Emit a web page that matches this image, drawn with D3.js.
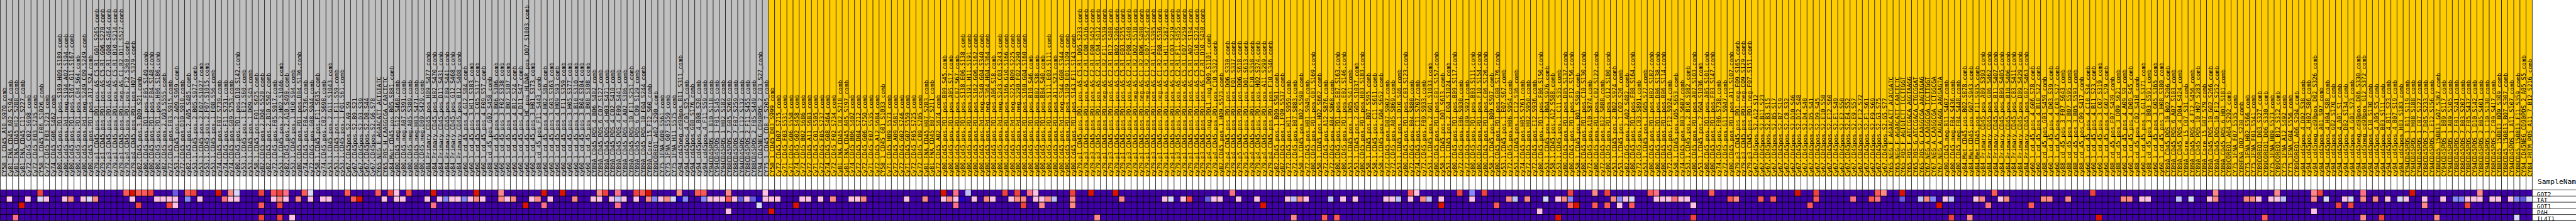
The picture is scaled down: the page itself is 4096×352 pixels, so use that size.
<!DOCTYPE html>
<html>
<head>
<meta charset="utf-8">
<script src="https://cdn.jsdelivr.net/npm/d3@7/dist/d3.min.js"></script>
<style>
html,body{margin:0;padding:0;background:#fff;overflow:hidden;width:4096px;height:352px}
svg{display:block}
text{font-family:"DejaVu Sans Mono",monospace;fill:#000}
</style>
</head>
<body>
<div id="chart"></div>
<script>
// Samples of the first class (grey columns)
const samplesGrey = [
"CY58_1_CD45_A10_S970_comb","Cy81_FNA_CD45_A02_S194_comb","Cy81_FNA_CD45_H12_S288_comb","Cy81_FNA_CD45_C11_S227_comb","Cy72_CD45_C02_S698_comb","Cy72_CD45_F03_S735_comb","CY58_1_CD45_F06_S1026_comb","Cy72_CD45_F03_S723_comb","Cy74_CD45_G06_S462_comb",
"cy80.Cd45.pos.PD1.pos.S189.H09.S189.comb","cy80.Cd45.pos.Pd1.neg.S194.A02.S194.comb","cy80.Cd45.pos.PD1.pos.S167.G11.S167.comb","cy80.Cd45.pos.PD1.pos.C04.S64.comb","cy80.Cd45.pos.Pd1.neg.S249.C09.S249.comb","cy80.Cd45.pos.PD1.pos.A12.S24.comb",
"cy79.p1.CD45.pos.PD1.pos.AS.C5.R1.G01.S265.comb","cy79.p1.CD45.pos.PD1.pos.AS.C5.R1.G06.S270.comb","cy79.p3.CD45.pos.PD1.pos.AS.C2.R1.G08.S464.comb","cy79.p1.CD45.pos.PD1.pos.AS.C5.R1.B10.S214.comb","cy79.p1.CD45.pos.PD1.neg.AS.C1.R2.D11.S527.comb",
"cy79.p4.CD45.pos.PD1.pos.F12.S360.comb","cy79.p4.CD45.pos.PD1.pos.H07.S379.comb","cy82.CD45.pos.3.B09.S21.comb","cy80.CD45.pos.PD1.pos.F05.S149.comb","cy80.CD45.pos.PD1.pos.F04.S148.comb","cy80.CD45.pos.PD1.pos.H06.S186.comb","cy82.CD45.pos.2.G03.S555.comb","cy72.CD45.pos.F03.S915.comb","cy53.1.CD45.pos.2.A09.S969.comb","cy72.CD45.pos.D10.S910.comb","cy82.CD45.pos.2.A05.S485.comb","cy53.1.CD45.pos.2.B05.S977.comb","cy53.1.CD45.pos.2.F07.S1027.comb",
"cy53.1.CD45.pos.2.F07.S1015.comb","cy53.1.CD45.pos.1.F08.S56.comb","cy74.CD45.pos.F07.S739.comb","cy74.CD45.pos.F11.S731.comb","cy74.CD45.pos.G09.S753.comb","cy80.CD45.pos.PD1.pos.D10.S142.comb","cy53.1.CD45.pos.1.E12.S60.comb","cy53.1.CD45.pos.1.D09.S45.comb","cy58.1.CD45.pos.F01.S625.comb","cy82.CD45.pos.2.D04.S520.comb","cy82.CD45.pos.2.B10.S502.comb","cy72.CD45.pos.F05.S917.comb","cy53.1.CD45.pos.2.H02.S1046.comb","cy82.CD45.pos.2.A10.S490.comb","cy53.1.CD45.pos.1.H10.S94.comb","cy80.CD45.pos.PD1.pos.D04.S136.comb","cy74.CD45.pos.F04.S736.comb","cy72.CD45.pos.G08.S944.comb","cy58.1.CD45.pos.F11.S635.comb","cy74.CD45.pos.C02.S698.comb","cy53.1.CD45.pos.2.G11.S1043.comb","cy53.1.CD45.pos.1.F11.S59.comb","cy53.1.CD45.pos.1.F01.S61.comb",
"Cy67.CD45pos.S2.A9.S9","Cy67.CD45pos.S2.B9.S21","Cy67.CD45pos.S2.D3.S39","Cy67.CD45pos.S2.D8.S44","Cy67.CD45pos.S2.G6.S78","CY65_NEG_E_AGAACATT_ACTGTATC","CY65_POS_H_CAAGGCGA_CAACTCTC","cy84.Met.CD45.pos.B05.S881.comb","cy80.CD45.neg.G12.S468.comb","cy80.CD45.neg.A07.S391.comb","cy80.CD45.neg.A05.S389.comb","cy80.CD45.neg.H03.S471.comb","cy80.CD45.neg.D09.S429.comb",
"cy84_Primary_CD45_pos_H09_S477_comb","cy84_Primary_CD45_pos_H02_S470_comb","cy84_Primary_CD45_pos_D11_S431_comb","cy84_Primary_CD45_pos_F09_S441_comb","cy84_Primary_CD45_pos_G12_S468_comb","cy84_Primary_CD45_pos_B12_S408_comb",
"cy60_1_cd_45_pos_4_G12_S84_comb","cy60_1_cd_45_pos_3_H11_S383_comb","cy60_1_cd_45_pos_3_C05_S317_comb","cy60_1_cd_45_pos_4_F09_S57_comb","cy88_cd_45_pos_G02_S458_comb","cy60_1_cd_45_pos_3_B06_S306_comb","cy60_1_cd_45_pos_3_F02_S338_comb","cy60_1_cd_45_pos_3_B07_S307_comb","cy60_1_cd_45_pos_4_B12_S24_comb","cy60_1_cd_45_pos_4_D11_S47_comb","cy60_1_cd_45_pos_HC_pos_HLDAR_pos_D07_S1003_comb","cy60_1_cd_45_pos_3_H01_S373_comb","cy88_cd_45_pos_F11_S443_comb","cy60_1_cd_45_pos_4_H02_S86_comb","cy60_1_cd_45_pos_3_G03_S363_comb","cy60_1_cd_45_pos_4_H09_S93_comb","cy60_1_cd_45_pos_3_F11_S359_comb","cy60_1_cd_45_pos_3_H05_S377_comb","cy60_1_cd_45_pos_3_B10_S310_comb","cy60_1_cd_45_pos_3_B04_S304_comb","cy60_1_cd_45_pos_3_B08_S308_comb",
"CY89A_CD45_POS_4_B06_S402_comb","CY89A_CD45_POS_6_C07_S127_comb","CY89A_CD45_POS_4_H03_S471_comb","CY89A_CD45_POS_4_C02_S410_comb","CY89A_CD45_POS_4_F09_S441_comb","CY89A_CD45_POS_4_A02_S386_comb","CY89A_CD45_POS_10_F11_S251_comb","CY89A_CD45_POS_6_C09_S129_comb","CY89A_CD45_POS_10_F04_S244_comb","CY89A_Core_15_F12_S60_comb","CY89COREQ1_A02_S290_comb","CY75_1FNA_G09_S561_comb","CY75_1FNA_G07_S559_comb","CY75_1FNA_H11_S575_comb",
"cy94_cd45neg_cd90pos_B11_S311_comb","cy94_cd45pos_4_C01_S25_comb","cy94_cd45pos_G08_S176_comb","cy94_cd45pos_4_B08_S20_comb","cy94_cd45pos_4_F11_S59_comb","CY94CD45POS_1_B10_S118_comb","CY94CD45POS_1_F01_S145_comb","CY94CD45POS_1_H02_S182_comb","CY88CD45POS_7_G05_S269_comb","CY88CD45POS_7_F07_S259_comb","CY94CD45POS_1_C12_S132_comb","CY88CD45POS_2_F11_S455_comb","CY88CD45POS_2_F05_S449_comb","CY94_CD45NEG_CD90POS_2_C03_S27_comb","CY75_1_CD45_CD8_7_S205_comb"
];
// Samples of the second class (gold columns)
const samplesGold = [
"CY58_1_CD45_D03_S999_comb","Cy72_CD45_D07_S715_comb","Cy71_CD45_F03_S531_comb","Cy71_CD45_G06_S558_comb","Cy74_CD45_G02_S458_comb","Cy72_CD45_B02_S686_comb","Cy72_CD45_A11_S683_comb","Cy71_CD45_C01_S505_comb","Cy72_CD45_F05_S737_comb","Cy74_CD45_G08_S464_comb","Cy72_CD45_F02_S734_comb","Cy81_FNA_CD45_C02_S218_comb","Cy81_FNA_CD45_A05_S197_comb","Cy74_CD45_B06_S402_comb","Cy72_CD45_D04_S712_comb","Cy72_CD45_G06_S750_comb","Cy71_CD45_F07_S535_comb","Cy72_CD45_A12_S684_comb","CY58_1_CD45_G01_S1033_comb","Cy71_CD45_H09_S573_comb",
"Cy72_CD45_A09_S681_comb","Cy72_CD45_G02_S746_comb","Cy71_CD45_G07_S559_comb","Cy72_CD45_F05_S725_comb","Cy72_CD45_C09_S705_comb","Cy81_FNA_CD45_H07_S283_comb","Cy81_FNA_CD45_B07_S211_comb","Cy72_CD45_A02_S674_comb",
"cy80.Cd45.pos.PD1.pos.B09.S45.comb","cy80.Cd45.pos.PD1.pos.A05.S17.comb","cy80.Cd45.pos.PD1.pos.C07.S67.comb","cy80.Cd45.pos.PD1.pos.S138.E06.S138.comb","cy80.Cd45.pos.PD1.pos.S191.H11.S191.comb","cy80.Cd45.pos.PD1.pos.S162.G06.S162.comb","cy80.Cd45.pos.Pd1.neg.S340.G04.S340.comb","cy80.Cd45.pos.Pd1.neg.S364.H04.S364.comb","cy80.Cd45.pos.PD1.pos.A06.S18.comb","cy80.Cd45.pos.Pd1.neg.S243.C03.S243.comb","cy80.Cd45.pos.PD1.pos.S166.G10.S166.comb","cy80.Cd45.pos.Pd1.neg.S225.B09.S225.comb","cy80.Cd45.pos.Pd1.neg.S290.F02.S290.comb","cy80.Cd45.pos.PD1.pos.S160.G04.S160.comb","cy80.Cd45.pos.PD1.pos.B10.S46.comb","cy80.Cd45.pos.PD1.pos.B02.S38.comb","cy80.Cd45.pos.PD1.pos.B04.S40.comb","cy80.Cd45.pos.PD1.pos.S111.E03.S111.comb","cy80.Cd45.pos.PD1.pos.A11.S23.comb","cy80.Cd45.pos.Pd1.neg.S344.G08.S344.comb","cy80.Cd45.pos.PD1.pos.S109.E01.S109.comb","cy80.Cd45.pos.PD1.pos.S143.F11.S143.comb",
"cy79.p1.CD45.pos.PD1.pos.AS.C5.R1.D05.S233.comb","cy79.p3.CD45.pos.PD1.pos.AS.C2.R1.C08.S416.comb","cy79.p3.CD45.pos.PD1.pos.AS.C2.R1.F08.S452.comb","cy79.p3.CD45.pos.PD1.pos.AS.C2.R1.C04.S412.comb","cy79.p1.CD45.pos.PD1.neg.AS.C1.R2.F11.S539.comb","cy79.p3.CD45.pos.PD1.pos.AS.C2.R1.B12.S408.comb","cy79.p1.CD45.pos.PD1.pos.AS.C5.R1.B02.S206.comb","cy79.p1.CD45.pos.PD1.pos.AS.C5.R1.E03.S255.comb","cy79.p3.CD45.pos.PD1.pos.AS.C2.R1.F08.S440.comb","cy79.p1.CD45.pos.PD1.neg.AS.C1.R2.D02.S518.comb","cy79.p1.CD45.pos.PD1.neg.AS.C1.R2.B06.S498.comb","cy79.p1.CD45.pos.PD1.neg.AS.C1.R2.E07.S547.comb","cy79.p3.CD45.pos.PD1.pos.AS.C2.R1.A11.S395.comb","cy79.p1.CD45.pos.PD1.neg.AS.C1.R2.F08.S536.comb","cy79.p1.CD45.pos.PD1.pos.AS.C5.R1.H11.S287.comb","cy79.p1.CD45.pos.PD1.pos.AS.C5.R1.C03.S219.comb","cy79.p3.CD45.pos.PD1.pos.AS.C2.R1.F11.S455.comb","cy79.p1.CD45.pos.PD1.pos.AS.C5.R1.F07.S259.comb","cy79.p1.CD45.pos.PD1.pos.AS.C5.R1.A02.S194.comb","cy79.p1.CD45.pos.PD1.pos.AS.C5.R1.G10.S274.comb","cy79.p3.CD45.pos.PD1.pos.AS.C2.R1.D10.S430.comb",
"cy79.p4.CD45.neg.PDL1.neg.D09.S1101.comb","cy79.p4.CD45.pos.PD1.pos.C10.S322.comb","cy82.CD45.pos.1.H09.S573.comb","cy79.p4.CD45.pos.PD1.pos.D06.S330.comb","cy79.p4.CD45.pos.PD1.pos.F01.S337.comb","cy79.p5.CD45.pos.PD1.pos.D06.S618.comb","cy79.p5.CD45.pos.PD1.pos.D01.S613.comb","cy79.p4.CD45.pos.PD1.pos.E10.S358.comb","cy79.p4.CD45.pos.PD1.pos.H02.S374.comb","cy79.p4.CD45.pos.PD1.pos.A11.S299.comb","cy79.p4.CD45.pos.PD1.pos.F10.S346.comb","cy82.CD45.pos.1.B09.S501.comb","cy82.CD45.pos.1.F09.S537.comb","cy72.CD45.pos.H11.S959.comb","cy72.CD45.pos.B07.S883.comb","cy58.1.CD45.pos.B02.S590.comb","cy72.CD45.pos.H01.S949.comb","cy80.CD45.pos.PD1.pos.G01.S169.comb","cy58.1.CD45.pos.H02.S662.comb",
"cy72.CD45.pos.A12.S876.comb","cy72.CD45.pos.A04.S868.comb","cy80.CD45.pos.PD1.pos.E07.S163.comb","cy80.CD45.pos.PD1.pos.E02.S146.comb","cy53.1.CD45.pos.1.D05.S41.comb","cy53.1.CD45.pos.2.G05.S1037.comb","cy80.CD45.pos.PD1.pos.H03.S183.comb","cy58.1.CD45.pos.B07.S595.comb","cy58.1.CD45.pos.C11.S611.comb","cy58.1.CD45.pos.G04.S652.comb","cy72.CD45.pos.D07.S907.comb","cy72.CD45.pos.A05.S869.comb","cy53.1.CD45.pos.1.D10.S46.comb","cy80.CD45.pos.PD1.pos.C03.S123.comb","cy72.CD45.pos.B04.S880.comb","cy74.CD45.pos.C11.S707.comb","cy72.CD45.pos.F09.S933.comb","cy53.1.CD45.pos.2.G01.S1033.comb","cy80.CD45.pos.PD1.pos.E01.S157.comb","cy58.1.CD45.pos.D01.S613.comb","cy53.1.CD45.pos.2.E04.S1024.comb","cy80.CD45.pos.PD1.pos.B09.S117.comb","cy72.CD45.pos.E06.S930.comb","cy72.CD45.pos.E09.S921.comb","cy80.CD45.pos.PD1.pos.B03.S111.comb","cy80.CD45.pos.PD1.pos.F10.S154.comb","cy80.CD45.pos.PD1.pos.C06.S126.comb","cy58.1.CD45.pos.B09.S597.comb","cy80.CD45.pos.PD1.pos.G08.S176.comb","cy53.1.CD45.pos.1.E07.S67.comb","cy72.CD45.pos.H06.S954.comb","cy53.1.CD45.pos.1.C12.S36.comb","cy74.CD45.pos.H05.S761.comb","cy72.CD45.pos.H02.S950.comb","cy72.CD45.pos.E12.S936.comb",
"cy80.CD45.pos.PD1.pos.F06.S150.comb","cy53.1.CD45.pos.2.B04.S976.comb","cy58.1.CD45.pos.A12.S588.comb","cy53.1.CD45.pos.1.C11.S35.comb","cy80.CD45.pos.PD1.pos.D05.S137.comb","cy80.CD45.pos.PD1.pos.F12.S156.comb","cy58.1.CD45.pos.B01.S589.comb","cy80.CD45.pos.PD1.pos.C10.S130.comb","cy72.CD45.pos.A10.S874.comb","cy80.CD45.pos.PD1.pos.C02.S122.comb","cy72.CD45.pos.B12.S888.comb","cy80.CD45.pos.PD1.pos.G12.S180.comb","cy53.1.CD45.pos.2.B02.S974.comb","cy53.1.CD45.pos.1.C02.S26.comb","cy82.CD45.pos.2.A02.S482.comb","cy80.CD45.pos.PD1.pos.F08.S164.comb","cy72.CD45.pos.C03.S891.comb","cy53.1.CD45.pos.1.G05.S77.comb","cy80.CD45.pos.PD1.pos.H02.S182.comb","cy80.CD45.pos.PD1.pos.D06.S138.comb","cy80.CD45.pos.PD1.pos.B06.S114.comb","cy72.CD45.pos.F12.S924.comb","cy58.1.CD45.pos.G05.S653.comb","cy74.CD45.pos.B03.S687.comb","cy53.1.CD45.pos.2.B10.S982.comb","cy80.CD45.pos.PD1.pos.A07.S103.comb","cy53.1.CD45.pos.2.G04.S1036.comb","cy80.CD45.pos.PD1.pos.A05.S101.comb","cy80.CD45.pos.PD1.pos.F03.S147.comb","cy74.CD45.pos.F06.S738.comb","cy72.CD45.pos.G11.S947.comb","cy80.CD45.pos.PD1.pos.A11.S107.comb","cy79.p3.CD45.pos.PD1.neg.F09.S165.comb","cy79.p3.CD45.pos.PD1.neg.C09.S129.comb","cy79.p3.CD45.pos.PD1.neg.F07.S151.comb",
"Cy67.CD45pos.S2.A12.S12","Cy67.CD45pos.S2.B11.S23","Cy67.CD45pos.S2.B3.S15","Cy67.CD45pos.S2.B5.S17","Cy67.CD45pos.S2.B7.S19","Cy67.CD45pos.S2.C8.S32","Cy67.CD45pos.S2.D10.S46","Cy67.CD45pos.S2.D12.S48","Cy67.CD45pos.S2.D4.S40","Cy67.CD45pos.S2.D5.S41","Cy67.CD45pos.S2.D9.S45","Cy67.CD45pos.S2.E10.S58","Cy67.CD45pos.S2.E12.S60","Cy67.CD45pos.S2.E1.S49","Cy67.CD45pos.S2.E2.S50","Cy67.CD45pos.S2.E4.S52","Cy67.CD45pos.S2.E9.S57","Cy67.CD45pos.S2.F12.S72","Cy67.CD45pos.S2.F1.S61","Cy67.CD45pos.S2.F9.S69","Cy67.CD45pos.S2.G3.S75","Cy67.CD45pos.S2.G5.S77",
"CY65_NEG_F_AGAACATT_ACACGATC","CY65_NEG_F_AGAACATT_CAACTCTC","CY65_POS_F_AGTGTCTT_TCCTTGGT","CY65_POS_F_ATCCGACA_AGGTAAGG","CY65_POS_G_ATCCGACA_CTGCGGAT","CY65_POS_G_CAAGGCGA_AAGTAGAG","CY67_NEG_A_CAAGGCGA_TCCTTGGT","CY67_NEG_A_CAAGGCGA_TCTGGCGA","CY67_NEG_A_CAGAGAGG_AAGGAGTA","cy80.CD45.neg.B11.S407.comb","cy80.CD45.neg.F04.S436.comb","cy80.CD45.neg.F04.S448.comb","cy84.Met.CD45.pos.B02.S878.comb","cy84.Met.CD45.pos.G07.S943.comb","cy84.Met.CD45.pos.F11.S935.comb",
"cy84_Primary_CD45_pos_A09_S393_comb","cy84_Primary_CD45_pos_G06_S462_comb","cy84_Primary_CD45_pos_B11_S407_comb","cy84_Primary_CD45_pos_B09_S405_comb","cy84_Primary_CD45_pos_B10_S406_comb","cy84_Primary_CD45_pos_C03_S411_comb","cy84_Primary_CD45_pos_D09_S429_comb","cy84_Primary_CD45_pos_G07_S463_comb",
"cy60_1_cd_45_pos_4_G06_S78_comb","cy60_1_cd_45_pos_4_B10_S22_comb","cy88_cd_45_pos_G03_S459_comb","cy60_1_cd_45_pos_4_D03_S39_comb","cy60_1_cd_45_pos_4_C03_S27_comb","cy88_cd_45_pos_3_F07_S643_comb","cy88_cd_45_pos_3_B07_S595_comb","cy88_cd_45_pos_3_B05_S593_comb","cy88_cd_45_pos_C09_S417_comb","cy60_1_cd_45_pos_4_C10_S34_comb","cy60_1_cd_45_pos_4_B11_S23_comb","cy60_1_cd_45_pos_3_C07_S319_comb","cy60_1_cd_45_pos_4_G07_S79_comb","cy88_cd_45_pos_F07_S439_comb","cy88_cd_45_pos_3_D09_S621_comb","cy60_1_cd_45_pos_4_A09_S9_comb","cy60_1_cd_45_pos_4_D09_S45_comb","cy88_cd_45_pos_C02_S410_comb","cy60_1_cd_45_pos_3_G11_S371_comb","cy88_cd_45_pos_3_B03_S591_comb","cy60_1_cd_45_pos_3_G05_S365_comb","cy60_1_cd_45_pos_3_H08_S380_comb",
"CY89A_CD45_POS_10_B02_S206_comb","CY89A_CD45_POS_6_A07_S103_comb","CY89A_CD45_POS_4_D04_S424_comb","CY89A_Core_15_C07_S31_comb","CY89A_CD45_POS_4_F12_S456_comb","CY89A_CD45_POS_10_H07_S283_comb","CY89A_Core_15_G07_S79_comb","CY89A_CD45_POS_10_G02_S266_comb","CY89A_CD45_POS_10_F12_S252_comb","CY89A_CD45_POS_6_H01_S181_comb","CY89COREQ1_A04_S292_comb","CY75_1FNA_F07_S535_comb","CY89FNA_D02_S230_comb","CY75_1FNA_H02_S566_comb","CY75_1FNA_F01_S541_comb","CY89COREQ1_D03_S327_comb","CY89COREQ1_D06_S330_comb","CY75_1FNA_H09_S573_comb","CY89COREQ1_B12_S312_comb","CY75_1FNA_A12_S492_comb","CY75_1FNA_G04_S556_comb","CY89COREQ1_A06_S294_comb",
"cy94_cd45pos_4_D02_S38_comb","cy94_cd45pos_4_H02_S86_comb","cy94_cd45neg_cd90pos_D02_S326_comb","cy94_cd45pos_A01_S97_comb","cy94_cd45pos_4_H04_S88_comb","cy94_cd45pos_G02_S170_comb","cy94_cd45pos_4_A01_S1_comb","cy94_cd45pos_D02_S134_comb","cy94_cd45pos_4_G01_S73_comb","cy94_cd45neg_cd90pos_D06_S330_comb","cy94_cd45neg_cd90pos_G12_S372_comb","cy94_cd45pos_C10_S130_comb","cy94_cd45pos_4_A05_S5_comb","cy94_cd45pos_B03_S111_comb","cy94_cd45pos_4_B11_S23_comb","cy94_cd45pos_4_B07_S19_comb","cy94_cd45pos_H03_S183_comb",
"CY94CD45POS_1_B11_S119_comb","CY94CD45POS_1_H08_S188_comb","CY94CD45POS_1_C07_S127_comb","CY88CD45POS_7_D05_S233_comb","CY94CD45POS_1_E12_S156_comb","CY88CD45_150813_G07_S367_comb","CY94CD45POS_1_B09_S117_comb","CY94CD45POS_1_A09_S105_comb","CY88CD45POS_7_F01_S241_comb","CY88CD45POS_7_B03_S207_comb","CY88CD45POS_2_F05_S437_comb","CY94CD45POS_1_D10_S142_comb","CY88CD45POS_2_B05_S401_comb","CY94CD45POS_1_C10_S130_comb","CY88CD45POS_2_C09_S417_comb","CY88CD45_150813_B09_S309_comb","CY88CD45_150813_B07_S307_comb","CY94CD45POS_1_A11_S107_comb","CY88CD45_150813_F11_S359_comb","CY94_CD45NEG_CD90POS_2_A05_S5_comb","CY84_PRTM_POS_A11_7_B12_S216_comb"
];

// Heatmap rows: [sample index, colour level]; every sample not listed has level 0.
const GOT2 = [[6,10],[20,9],[21,11],[22,9],[23,9],[24,10],[28,2],[30,9],[31,10],[35,11],[37,7],[38,5],[42,10],[44,9],[45,10],[46,8],[49,9],[50,5],[56,9],[61,9],[63,10],[64,6],[66,10],[70,11],[77,11],[81,7],[88,11],[91,11],[97,7],[98,10],[100,8],[103,10],[104,9],[105,11],[110,7],[113,9],[114,9],[118,7],[124,6],[153,11],[155,8],[157,4],[163,10],[165,10],[167,8],[168,6],[174,10],[177,11],[181,11],[200,8],[229,9],[230,6],[237,10],[239,3],[241,10],[255,10],[259,7],[261,10],[268,9],[269,8],[278,9],[292,11],[295,10],[305,9],[306,7],[309,11],[324,9],[340,10],[360,7],[370,7],[376,7],[377,10],[384,8],[392,11],[403,7]];
const TAT = [[1,6],[4,6],[6,5],[7,6],[10,6],[11,7],[13,6],[14,5],[15,7],[21,6],[25,6],[26,6],[27,6],[28,6],[30,3],[32,6],[36,8],[37,6],[38,6],[44,6],[45,7],[46,6],[48,7],[50,6],[52,6],[53,6],[57,9],[58,11],[62,6],[64,6],[65,6],[69,6],[71,6],[72,3],[73,6],[74,6],[75,3],[76,6],[77,7],[78,6],[81,7],[82,6],[83,7],[86,6],[87,7],[89,6],[93,7],[96,6],[97,6],[99,6],[100,4],[101,6],[103,6],[105,7],[106,3],[107,6],[108,7],[109,5],[110,1],[111,3],[114,3],[115,6],[116,6],[117,6],[118,9],[119,6],[120,2],[121,6],[122,2],[123,1],[124,6],[125,6],[126,6],[130,6],[131,6],[133,6],[135,7],[138,6],[139,6],[140,7],[147,6],[150,7],[153,6],[154,7],[155,6],[156,1],[158,6],[160,7],[161,6],[164,6],[165,7],[166,7],[168,6],[169,6],[170,7],[171,4],[174,7],[182,7],[189,6],[190,5],[192,6],[193,10],[196,2],[197,6],[198,6],[201,6],[204,6],[209,6],[210,4],[211,7],[212,6],[216,4],[218,6],[220,6],[225,6],[226,6],[227,4],[229,6],[231,7],[232,4],[234,6],[239,6],[245,7],[246,4],[248,7],[251,5],[253,6],[254,7],[255,3],[262,7],[263,3],[264,6],[265,5],[269,6],[270,6],[271,6],[272,8],[273,6],[274,6],[281,9],[282,7],[286,9],[288,9],[295,9],[301,8],[304,9],[305,8],[309,2],[312,4],[313,7],[314,3],[316,6],[317,4],[321,6],[322,7],[325,6],[326,7],[332,7],[333,7],[336,7],[345,7],[346,7],[348,6],[349,6],[354,4],[356,5],[359,6],[360,7],[365,7],[366,7],[367,6],[369,6],[370,6],[371,4],[376,7],[378,5],[381,6],[382,5],[384,7],[386,7],[388,6],[390,5],[391,6],[394,6],[397,6],[399,3],[400,3],[401,6],[402,6],[403,6],[405,6],[406,6],[408,6],[409,3],[410,2],[411,5]];
const GOT1 = [[3,11],[22,10],[27,10],[28,6],[42,9],[45,10],[70,8],[85,11],[88,8],[100,8],[123,5],[129,11],[155,8],[166,10],[169,7],[174,7],[205,11],[234,11],[243,9],[255,9],[256,11],[259,9],[261,9],[263,6],[265,9],[275,6],[294,9],[315,11],[323,8],[330,9],[380,10],[382,10],[394,7],[401,10]];
const PAH = [[118,6],[125,11],[250,6],[376,6]];
const IL4T1 = [[2,8],[42,10],[45,10],[47,6],[178,7],[210,7],[215,9],[217,9],[253,11],[275,10],[317,10],[320,7],[341,11],[368,9],[384,7],[387,10],[396,7],[409,5]];

const rowNames = ["GOT2","TAT","GOT1","PAH","IL4T1"];
const rowValues = [GOT2,TAT,GOT1,PAH,IL4T1];
const headerLabel = "SampleName";
const levels = [0,1,2,3,4,5,6,7,8,9,10,11];
const levelColours = ["#4000a8","#2600cc","#6a5ae8","#8888ff","#c0c0ff","#d8d8ff","#ffc0e8","#ff8888","#ff7088","#ff5858","#f04040","#dd1100"];
const classColours = {grey:"#c0c0c0",gold:"#ffcc00"};

const K = 4096/5030;           // everything is laid out at reference size, then scaled
const samples = samplesGrey.map(n=>({name:n,cls:"grey"})).concat(samplesGold.map(n=>({name:n,cls:"gold"})));
const n = samples.length;

const x = d3.scaleLinear().domain([0,n]).range([0.5,0.5+12*n]);
const y = d3.scaleBand().domain(rowNames).range([371.5,431.5]);
const colour = d3.scaleOrdinal().domain(levels).range(levelColours);

const svg = d3.select("#chart").append("svg").attr("width",4096).attr("height",352);
const g = svg.append("g").attr("transform",`scale(${K})`);

// class bars behind the labels
g.append("g").selectAll("rect").data(samples).join("rect")
  .attr("x",(d,i)=>x(i)).attr("y",0).attr("width",x(1)-x(0)).attr("height",345.5)
  .attr("fill",d=>classColours[d.cls]);

// sample labels
g.append("g").selectAll("text").data(samples).join("text")
  .attr("transform",(d,i)=>`translate(${x(i+1)-0.3},345.5) rotate(-90)`)
  .attr("font-size",11.62)
  .text(d=>d.name);

// column rules
g.append("g").selectAll("line").data(d3.range(n+1)).join("line")
  .attr("x1",d=>x(d)).attr("x2",d=>x(d)).attr("y1",0).attr("y2",371.5)
  .attr("stroke","#000").attr("stroke-width",1);

// heat map cells
rowNames.forEach((name,r)=>{
  const lookup = new Map(rowValues[r]);
  g.append("g").selectAll("rect").data(d3.range(n)).join("rect")
    .attr("x",d=>x(d)).attr("y",y(name)).attr("width",x(1)-x(0)).attr("height",y.bandwidth())
    .attr("fill",d=>colour(lookup.get(d)||0))
    .attr("stroke","#000").attr("stroke-width",1);
});

// row labels and their rules
g.append("g").selectAll("text").data(rowNames).join("text")
  .attr("x",4953.5).attr("y",d=>y(d)+y.bandwidth()+0.3)
  .attr("font-size",11.62).text(d=>d);
g.append("g").selectAll("line").data(y.domain().map(d=>y(d)).concat([431.5])).join("line")
  .attr("x1",x(n)).attr("x2",5030).attr("y1",d=>d).attr("y2",d=>d)
  .attr("stroke","#000").attr("stroke-width",1);

g.append("text").attr("x",4955).attr("y",360).attr("font-size",13.9).text(headerLabel);
</script>
</body>
</html>
